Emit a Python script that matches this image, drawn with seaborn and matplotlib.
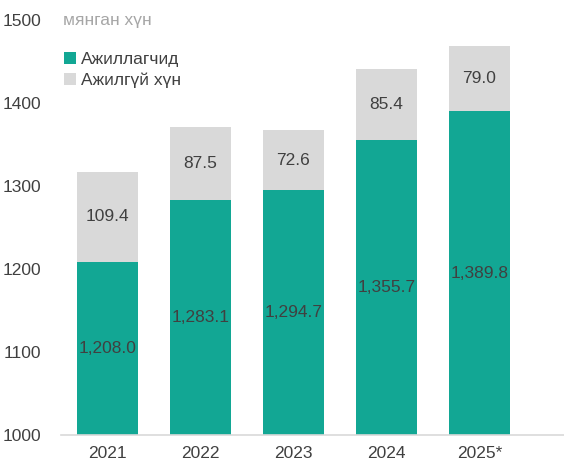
import numpy as np
import pandas as pd
import matplotlib
matplotlib.use("Agg")
import matplotlib.pyplot as plt
import seaborn as sns

# data
years = ['2021', '2022', '2023', '2024', '2025*']
employed = [1208.0, 1283.1, 1294.7, 1355.7, 1389.8]
unemployed = [109.4, 87.5, 72.6, 85.4, 79.0]
series_names = ['Ажиллагчид', 'Ажилгүй хүн']

teal = '#12a794'
grey = '#d9d9d9'
txt = '#404040'

sns.set_style("white")
plt.rcParams['font.family'] = ['Liberation Sans', 'DejaVu Sans']

df = pd.DataFrame({'year': years, 'employed': employed, 'unemployed': unemployed})
df['total'] = df['employed'] + df['unemployed']

fig = plt.figure(figsize=(5.64, 4.66), dpi=100)
ax = fig.add_axes([0.108, 0.0665, 0.892, 0.8905])

# total bar (grey) behind, employed bar (teal) in front
sns.barplot(data=df, x='year', y='total', color=grey, width=0.66,
            saturation=1, linewidth=0, ax=ax, label=series_names[1])
sns.barplot(data=df, x='year', y='employed', color=teal, width=0.66,
            saturation=1, linewidth=0, ax=ax, label=series_names[0])

ax.set_ylim(1000, 1500)
ax.set_xlim(-0.5, 4.91)
ax.set_yticks([1000, 1100, 1200, 1300, 1400, 1500])
ax.set_xlabel('')
ax.set_ylabel('')
ax.tick_params(axis='both', labelsize=12.5, colors=txt, length=0)
ax.tick_params(axis='x', pad=8)
ax.tick_params(axis='y', pad=14)

for s in ['top', 'right', 'left']:
    ax.spines[s].set_visible(False)
ax.spines['bottom'].set_color('#d9d9d9')
ax.spines['bottom'].set_linewidth(1.2)

# value labels
for i, row in df.iterrows():
    ax.text(i, (1000 + row['employed']) / 2, f"{row['employed']:,.1f}",
            ha='center', va='center', fontsize=12.5, color=txt)
    ax.text(i, row['employed'] + row['unemployed'] / 2, f"{row['unemployed']:.1f}",
            ha='center', va='center', fontsize=12.5, color=txt)

ax.text(-0.48, 1500, 'мянган хүн', ha='left', va='center', fontsize=12.5, color='#a6a6a6')

handles, labels = ax.get_legend_handles_labels()
order = [labels.index(n) for n in series_names]
ax.legend([handles[k] for k in order], series_names, loc='upper left',
          bbox_to_anchor=(-0.025, 0.96), frameon=False, fontsize=12.5,
          handlelength=0.7, handleheight=0.7, handletextpad=0.3,
          labelspacing=0.3, labelcolor=txt)

fig.savefig('out.png', dpi=100)
